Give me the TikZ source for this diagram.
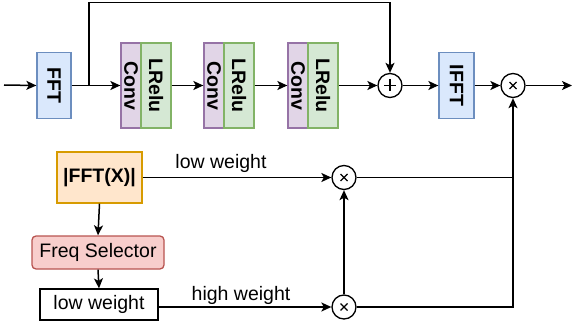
\documentclass[tikz,border=0pt]{standalone}
\usepackage{fontspec}
\setmainfont{Liberation Sans}
\usetikzlibrary{arrows.meta,calc}
\definecolor{bluefill}{HTML}{DAE8FC}\definecolor{bluedraw}{HTML}{6C8EBF}
\definecolor{purpfill}{HTML}{E1D5E7}\definecolor{purpdraw}{HTML}{9673A6}
\definecolor{greenfill}{HTML}{D5E8D4}\definecolor{greendraw}{HTML}{82B366}
\definecolor{orfill}{HTML}{FFE6CC}\definecolor{ordraw}{HTML}{D79B00}
\definecolor{redfill}{HTML}{F8CECC}\definecolor{reddraw}{HTML}{B85450}
\newcommand\myfs{\fontsize{19.5}{22}\selectfont}
\begin{document}
\begin{tikzpicture}[x=1pt,y=-1pt,
  box/.style={draw, line width=1.3pt, inner sep=0pt, font=\myfs},
  vbox/.style={box, font=\myfs\bfseries},
  fftbox/.style={vbox, fill=bluefill, draw=bluedraw, minimum width=34pt, minimum height=66pt},
  convbox/.style={vbox, fill=purpfill, draw=purpdraw, minimum width=20pt, minimum height=85pt},
  relubox/.style={vbox, fill=greenfill, draw=greendraw, minimum width=30pt, minimum height=85pt},
  vtext/.style={label={[rotate=-90, font=\myfs\bfseries, inner sep=0pt]center:#1}},
  arr/.style={-{Stealth[length=10pt,width=9pt,inset=2.5pt]}, line width=1.5pt},
  ln/.style={line width=1.5pt},
  op/.style={circle, draw, line width=1.3pt, minimum size=24pt, inner sep=0pt},
  lab/.style={font=\myfs, inner sep=0pt}]
\useasboundingbox (0,0) rectangle (574,329);

% top row
\coordinate (in) at (4,85);
\node[fftbox, vtext=FFT] (fft) at (54,85.5) {};
\coordinate (br) at (89,85.5);
\node[convbox, vtext=Conv] (c1) at (131,85.5) {};
\node[relubox, vtext=LRelu] (r1) at (156,85.5) {};
\node[convbox, vtext=Conv] (c2) at (214,85.5) {};
\node[relubox, vtext=LRelu] (r2) at (239,85.5) {};
\node[convbox, vtext=Conv] (c3) at (298,85.5) {};
\node[relubox, vtext=LRelu] (r3) at (323,85.5) {};
\node[op] (plus) at (390,85.5) {};
\node[fftbox, vtext=IFFT, minimum width=35pt] (ifft) at (456.5,85.5) {};
\node[op] (mul) at (513,85.5) {};
\coordinate (out) at (572,85.5);
\coordinate (top) at (89,2.5);

\draw[arr] (in) -- (fft.west);
\draw[arr] (fft.east) -- (c1.west);
\draw[arr] (r1.east) -- (c2.west);
\draw[arr] (r2.east) -- (c3.west);
\draw[arr] (r3.east) -- (plus.west);
\draw[arr] (br) -- (top) -| (plus.north);
\draw[arr] (plus.east) -- (ifft.west);
\draw[arr] (ifft.east) -- (mul.west);
\draw[arr] (mul.east) -- (out);

% bottom part
\node[box, font=\myfs\bfseries, fill=orfill, draw=ordraw, minimum width=85pt, minimum height=51pt] (mag) at (99.5,177.5) {|FFT(X)|};
\node[box, fill=redfill, draw=reddraw, rounded corners=4pt, minimum width=132pt, minimum height=33pt] (fs) at (98,252.5) {Freq Selector};
\node[box, fill=white, draw=black, minimum width=118pt, minimum height=31pt] (lw) at (99,304.5) {low weight};
\node[op] (m1) at (344,177.5) {};
\node[op] (m2) at (344,307) {};
\coordinate (j1) at (513,177.5);

\draw[arr] (mag.south) -- (fs.north);
\draw[arr] (fs.south) -- (lw.north);
\draw[arr] (mag.east |- m1) -- (m1.west);
\draw[arr] (lw.east |- m2) -- (m2.west);
\draw[arr] (m2.north) -- (m1.south);
\draw[ln] (m1.east) -- (j1);
\draw[arr] (m2.east) -| (mul.south);

\node[lab] (l1) at (221,163.5) {low weight};
\node[lab] (l2) at (241,295) {high weight};

% operator symbols
\draw[line width=1.3pt] ($(plus)+(-6,0)$) -- ($(plus)+(6,0)$) ($(plus)+(0,-6)$) -- ($(plus)+(0,6)$);
\foreach \n in {mul,m1,m2}
  \draw[line width=1.3pt] ($(\n)+(-3.5,-3.5)$) -- ($(\n)+(3.5,3.5)$) ($(\n)+(-3.5,3.5)$) -- ($(\n)+(3.5,-3.5)$);
\end{tikzpicture}
\end{document}
